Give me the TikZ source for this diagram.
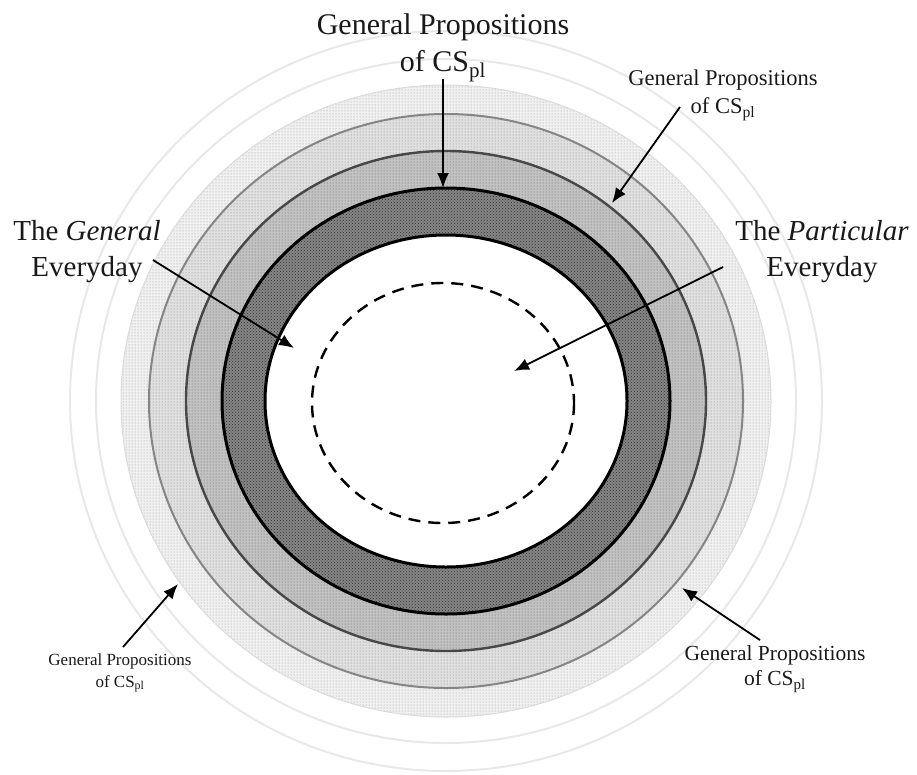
\documentclass[tikz,border=0pt]{standalone}
\usepackage{fontspec}
\setmainfont{Liberation Serif}
\usetikzlibrary{arrows.meta,patterns}

\tikzset{
  ringfill/.style 2 args={preaction={fill=#1}, pattern=dots, pattern color=#2},
  darkfill/.style={preaction={fill=black!48}, pattern=crosshatch dots, pattern color=black!80},
  blackrim/.style={draw=black, line width=3},
  midrim/.style={draw=black!72, line width=2.4},
  greyrim/.style={draw=black!48, line width=2},
  faintrim/.style={draw=black!9, line width=2},
  dashrim/.style={draw=black, line width=2.4, dash pattern=on 12 off 8},
  pointer/.style={draw=black, line width=1.8, -{Latex[length=15,width=12]}},
  caption/.style={align=center, inner sep=0, text=black!90},
}

\begin{document}
\begin{tikzpicture}[x=1pt,y=-1pt]
\useasboundingbox (0,0) rectangle (917,774);
\coordinate (c) at (446,401);

% outer faint circles
\draw[faintrim] (c) ellipse [x radius=376, y radius=370];
\draw[faintrim] (c) ellipse [x radius=350, y radius=342];

% stippled bands, outside in
\fill[ringfill={black!6}{black!40}] (c) ellipse [x radius=325, y radius=316];
\fill[ringfill={black!12}{black!50}] (c) ellipse [x radius=297, y radius=287];
\fill[ringfill={black!24}{black!62}] (c) ellipse [x radius=260, y radius=250];
\fill[darkfill] (c) ellipse [x radius=224, y radius=213];
\fill[white] (c) ellipse [x radius=181, y radius=166];

% band outlines
\draw[faintrim, draw=black!14, line width=1] (c) ellipse [x radius=325, y radius=316];
\draw[greyrim] (c) ellipse [x radius=297, y radius=287];
\draw[midrim] (c) ellipse [x radius=260, y radius=250];
\draw[blackrim] (c) ellipse [x radius=224, y radius=213];
\draw[blackrim] (c) ellipse [x radius=181, y radius=166];
\draw[dashrim] (443,403) ellipse [x radius=131, y radius=120];

% labels
\node[caption, font=\fontsize{30}{37}\selectfont] (top) at (443,48)
  {General Propositions\\of CS\textsubscript{pl}};
\node[caption, font=\fontsize{22.5}{28}\selectfont] (ur) at (723,95)
  {General Propositions\\of CS\textsubscript{pl}};
\node[caption, font=\fontsize{29}{36}\selectfont] (gen) at (87,252)
  {The \textit{General}\\Everyday};
\node[caption, font=\fontsize{29}{36}\selectfont] (par) at (822,252)
  {The \textit{Particular}\\Everyday};
\node[caption, font=\fontsize{17}{22}\selectfont] (bl) at (120,673)
  {General Propositions\\of CS\textsubscript{pl}};
\node[caption, font=\fontsize{21.5}{25}\selectfont] (br) at (775,669)
  {General Propositions\\of CS\textsubscript{pl}};

% arrow ends
\coordinate (topS) at (443,79);   \coordinate (topT) at (443,188);
\coordinate (urS)  at (680,107);  \coordinate (urT)  at (612,203);
\coordinate (genS) at (153,260);  \coordinate (genT) at (294,348);
\coordinate (parS) at (723,267);  \coordinate (parT) at (514,371);
\coordinate (blS)  at (123,647);  \coordinate (blT)  at (178,584);
\coordinate (brS)  at (760,640);  \coordinate (brT)  at (682,588);

\draw[pointer] (topS) -- (topT);
\draw[pointer] (urS) -- (urT);
\draw[pointer] (genS) -- (genT);
\draw[pointer] (parS) -- (parT);
\draw[pointer] (blS) -- (blT);
\draw[pointer] (brS) -- (brT);
\end{tikzpicture}
\end{document}
